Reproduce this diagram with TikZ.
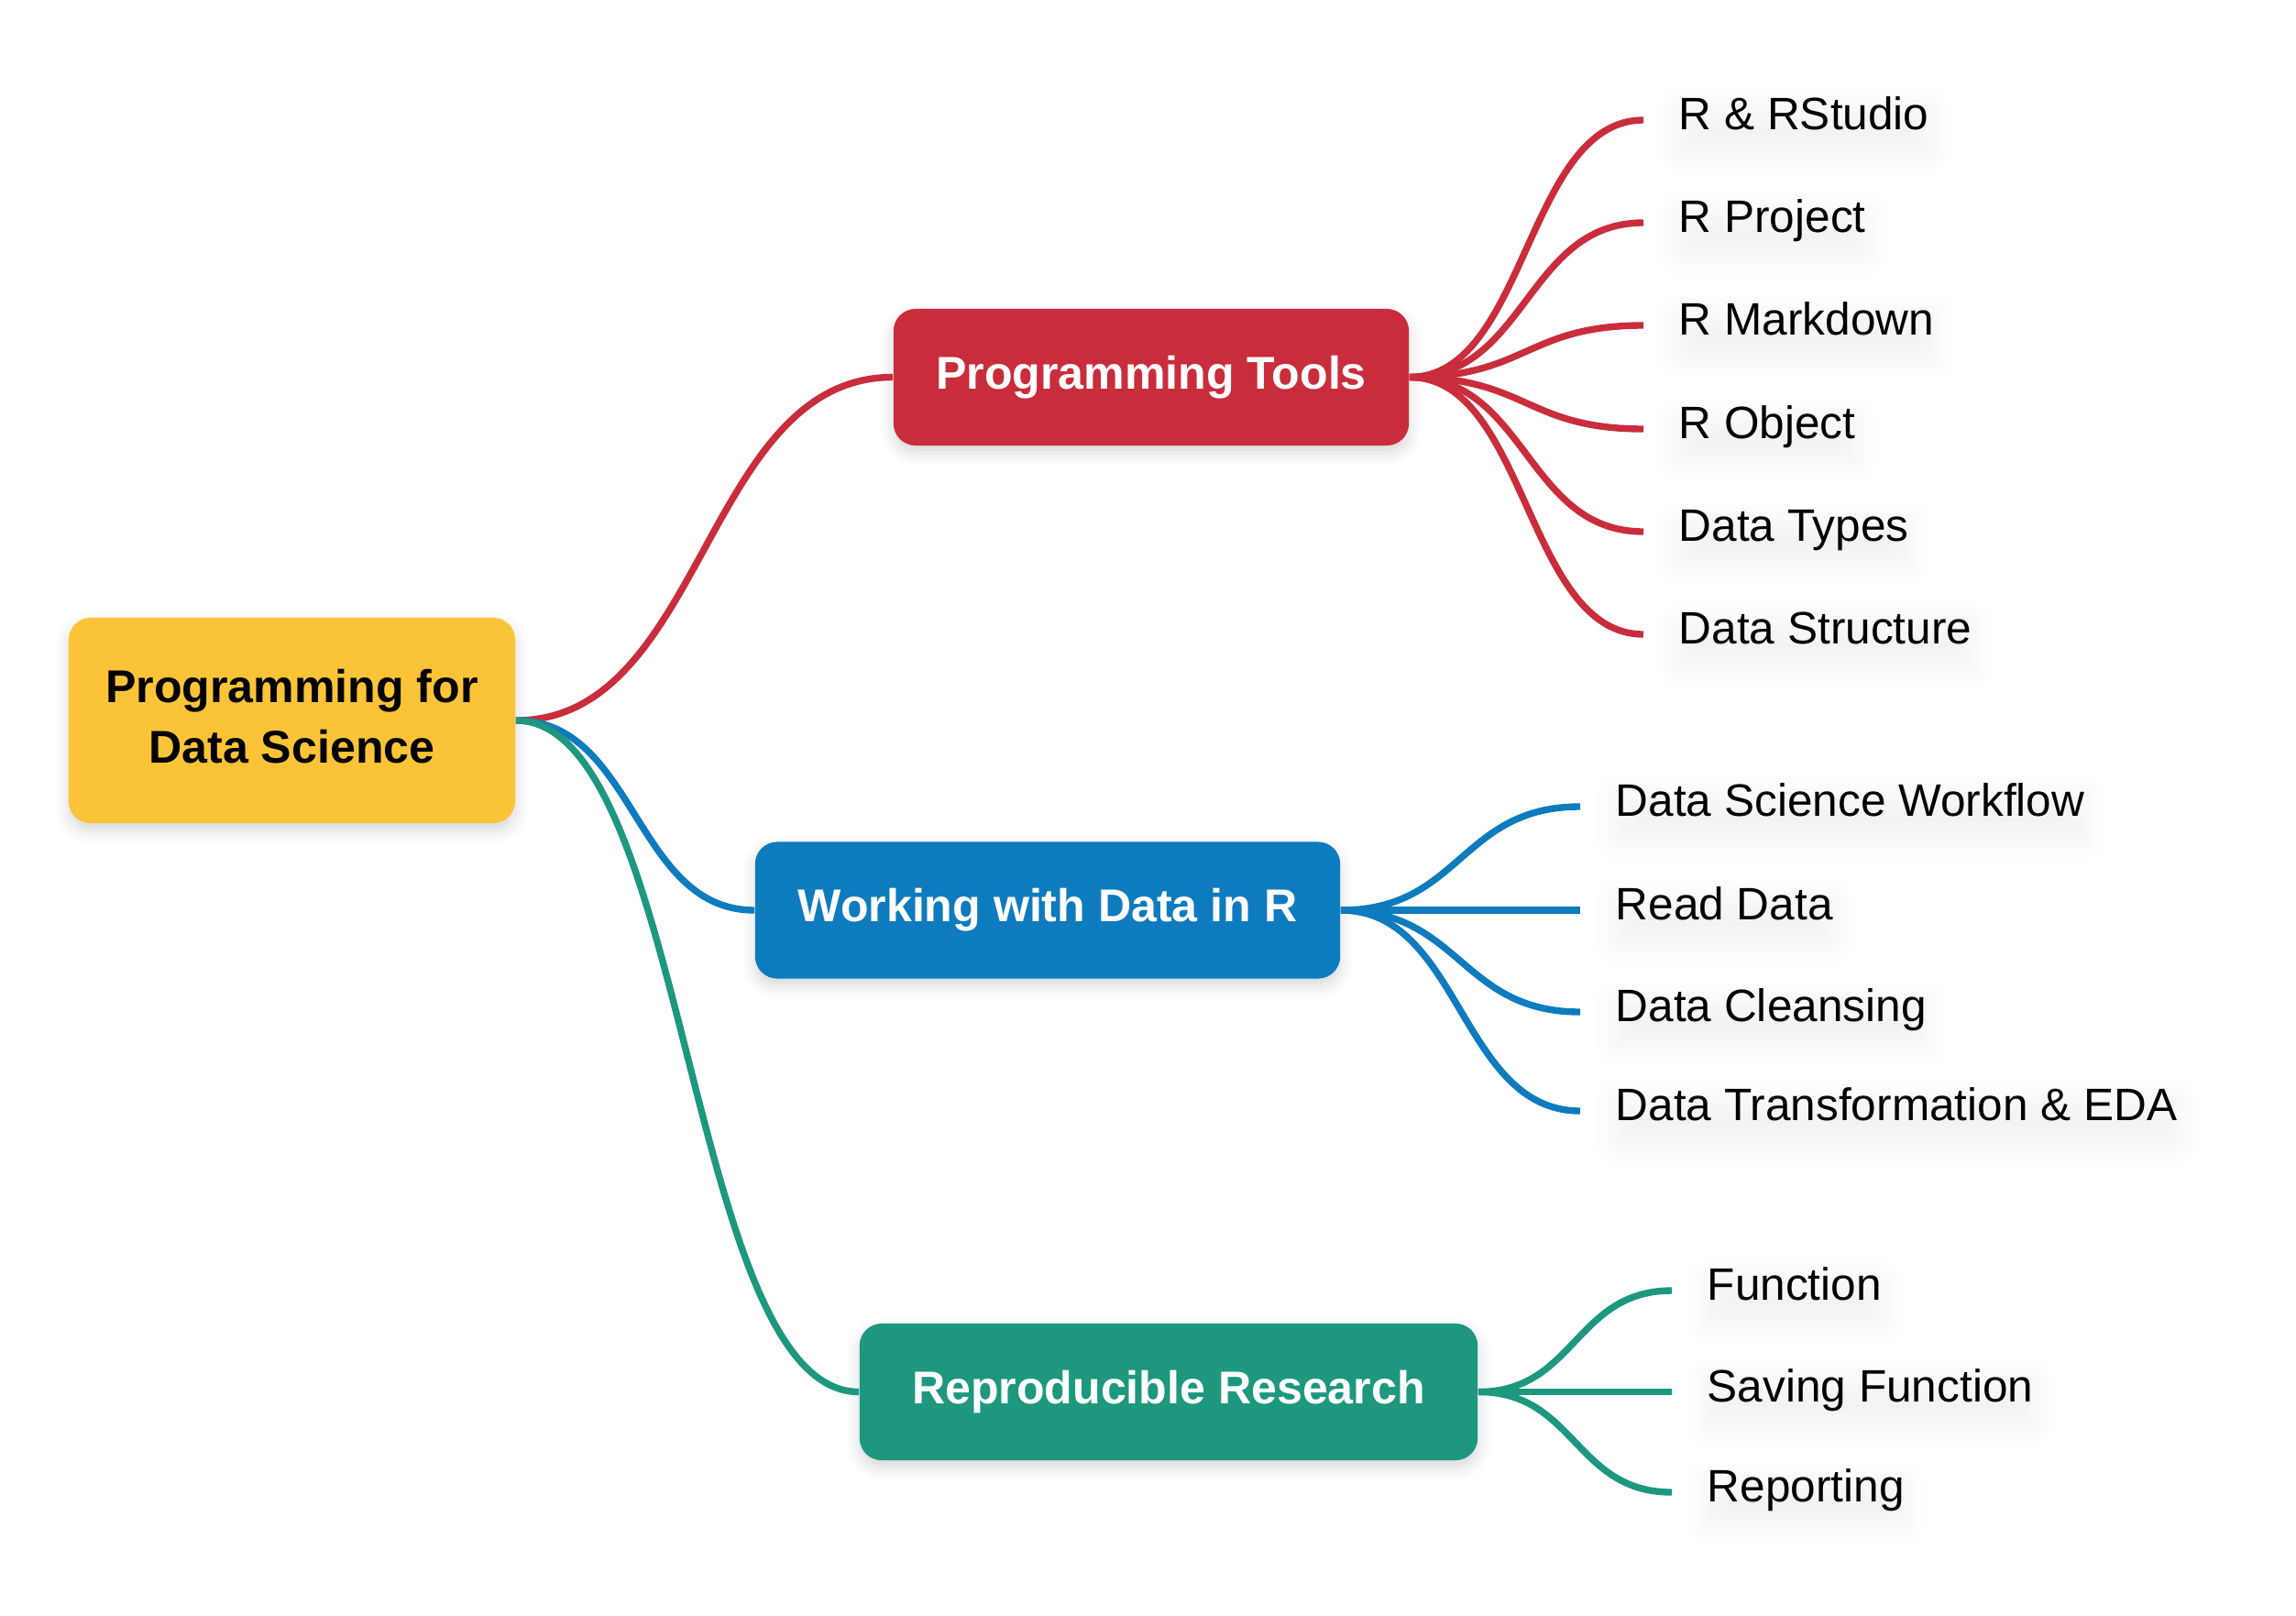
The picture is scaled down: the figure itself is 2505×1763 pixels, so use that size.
\documentclass[tikz,border=0pt]{standalone}
\usepackage{fontspec}
\setmainfont{Liberation Sans}
\usetikzlibrary{shadows.blur}

\definecolor{toolred}{HTML}{C92D3B}
\definecolor{datablue}{HTML}{0E7BBE}
\definecolor{reprogreen}{HTML}{1D977E}
\definecolor{rootyellow}{HTML}{FBC438}

\pgfdeclarelayer{background}
\pgfsetlayers{background,main}

\begin{document}
\begin{tikzpicture}[x=0.01cm, y=-0.01cm,
  box/.style={rounded corners=0.24cm, inner sep=0pt,
    font=\fontsize{14.25}{18.7}\selectfont\bfseries,
    blur shadow={shadow xshift=0pt, shadow yshift=-2.2pt,
      shadow blur radius=4pt, shadow opacity=16}},
  rootbox/.style={box, fill=rootyellow, text=black,
    minimum width=4.87cm, minimum height=2.24cm},
  topicbox/.style={box, text=white, minimum height=1.49cm},
  leaf/.style={anchor=west, inner xsep=0.38cm, inner ysep=0pt,
    text height=10.1pt, text depth=3.9pt,
    font=\fontsize{14.1}{17}\selectfont},
  leafhaze/.style={blur shadow={shadow xshift=0pt, shadow yshift=-3.5pt,
    shadow blur radius=7pt, shadow opacity=5, shadow blur steps=12}},
  link/.style={line width=2.1pt},
]
% canvas
\useasboundingbox (0,0) rectangle (2505,1763);

% central topic and its three branches
\node[rootbox] (root) at (318.5,786)
  {\raisebox{0.75pt}{\begin{tabular}{@{}c@{}}Programming for\\Data Science\end{tabular}}};
\node[topicbox, fill=toolred, minimum width=5.62cm] (tools) at (1256,411.5) {Programming Tools};
\node[topicbox, fill=datablue, minimum width=6.38cm] (data) at (1143,993) {Working with Data in R};
\node[topicbox, fill=reprogreen, minimum width=6.74cm] (repro) at (1275,1518.5) {Reproducible Research};

% leaves of Programming Tools
\node[leaf] (t1) at (1793,131) {R \& RStudio};
\node[leaf] (t2) at (1793,243) {R Project};
\node[leaf] (t3) at (1793,355) {R Markdown};
\node[leaf] (t4) at (1793,468) {R Object};
\node[leaf] (t5) at (1793,580) {Data Types};
\node[leaf] (t6) at (1793,692) {Data Structure};

% leaves of Working with Data in R
\node[leaf] (d1) at (1724,880) {Data Science Workflow};
\node[leaf] (d2) at (1724,993) {Read Data};
\node[leaf] (d3) at (1724,1104) {Data Cleansing};
\node[leaf] (d4) at (1724,1212) {Data Transformation \& EDA};

% leaves of Reproducible Research
\node[leaf] (r1) at (1824,1408) {Function};
\node[leaf] (r2) at (1824,1518.5) {Saving Function};
\node[leaf] (r3) at (1824,1628) {Reporting};

% soft haze under every leaf label
\begin{pgfonlayer}{background}
  \foreach \leafname in {t1,t2,t3,t4,t5,t6,d1,d2,d3,d4,r1,r2,r3}
    \path[leafhaze] ([xshift=0.38cm]\leafname.south west)
      rectangle ([xshift=-0.38cm]\leafname.north east);
\end{pgfonlayer}

% branches from the central topic
\draw[link, toolred] (root.east) .. controls +(206,0) and +(-206,0) .. (tools.west);
\draw[link, datablue] (root.east) .. controls +(131,0) and +(-131,0) .. (data.west);
\draw[link, reprogreen] (root.east) .. controls +(188,0) and +(-188,0) .. (repro.west);

% twigs to the leaves
\foreach \leafname in {t1,t2,t3,t4,t5,t6}
  \draw[link, toolred] (tools.east) .. controls +(128,0) and +(-128,0) .. (\leafname.west);
\foreach \leafname in {d1,d2,d3,d4}
  \draw[link, datablue] (data.east) .. controls +(131,0) and +(-131,0) .. (\leafname.west);
\foreach \leafname in {r1,r2,r3}
  \draw[link, reprogreen] (repro.east) .. controls +(106,0) and +(-106,0) .. (\leafname.west);
\end{tikzpicture}
\end{document}
